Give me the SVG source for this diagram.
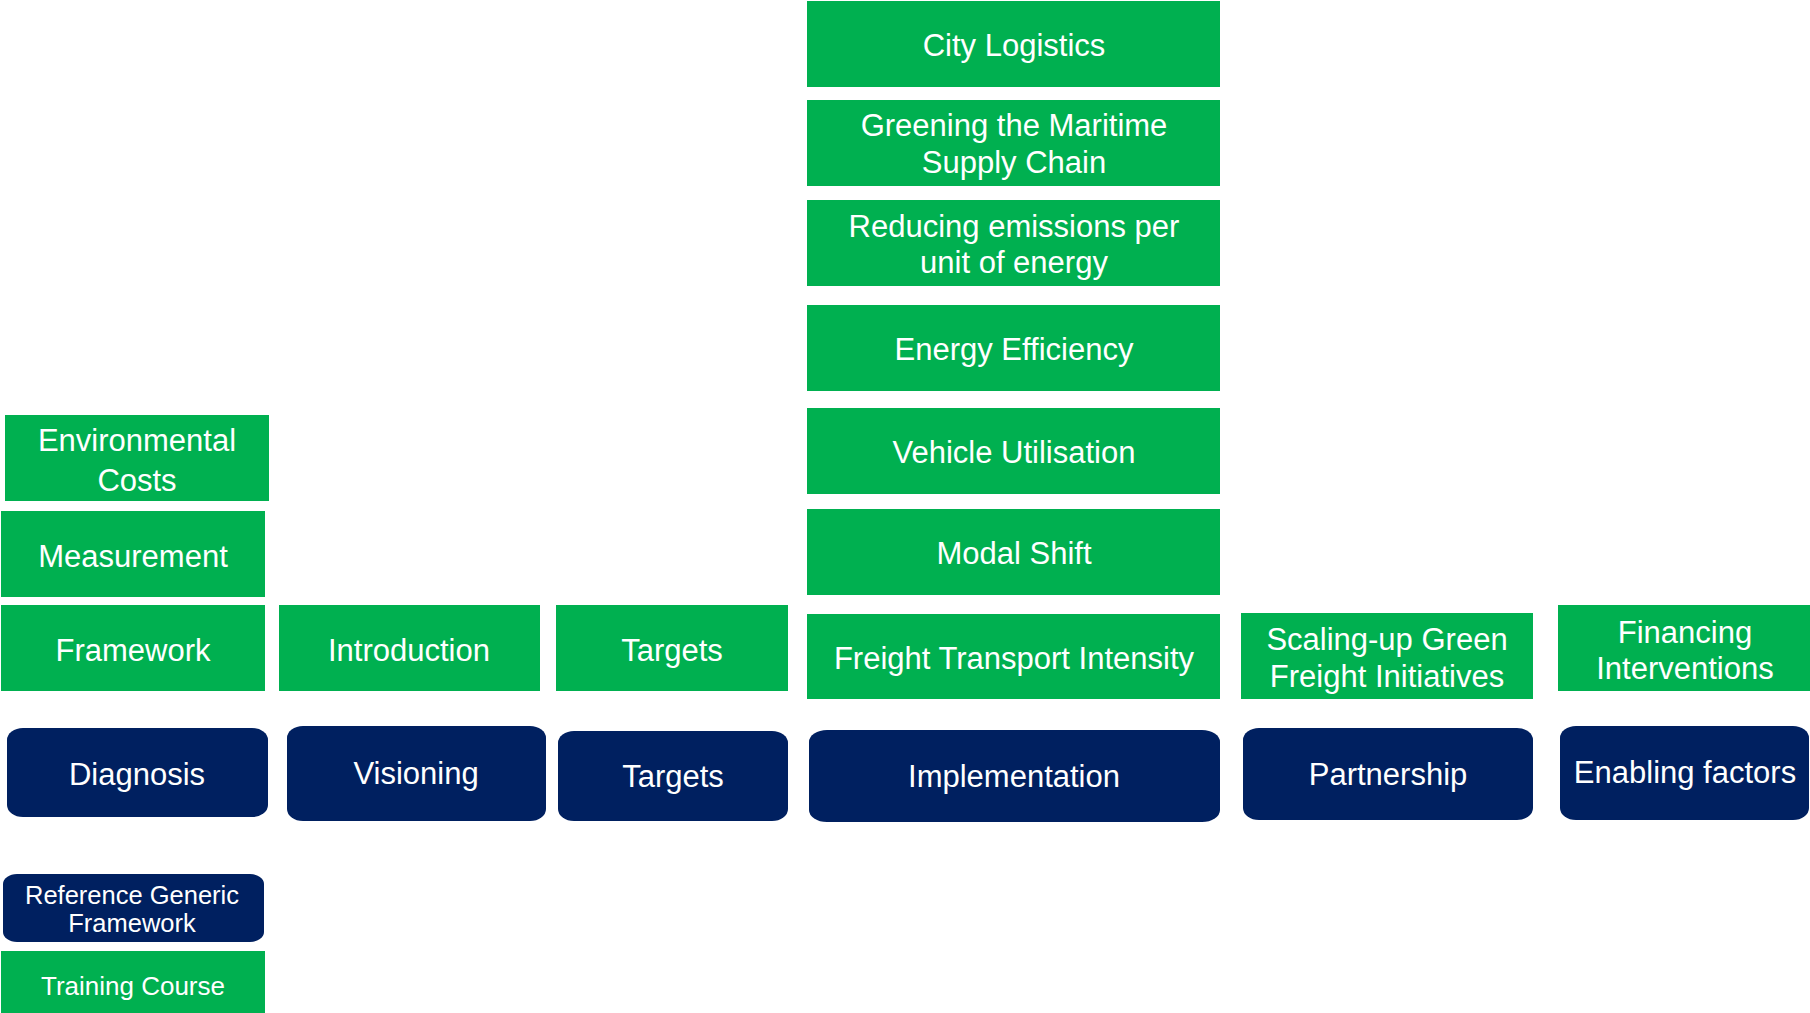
<svg xmlns="http://www.w3.org/2000/svg" width="1810" height="1013" viewBox="0 0 1810 1013">
<style>
.g{fill:#00B050}
.b{fill:#002060}
text{fill:#FFFFFF;font-family:"Liberation Sans",Arial,sans-serif;font-size:31px;text-anchor:middle}
.s{font-size:25.5px}
.t{font-size:26px}
</style>
<rect width="1810" height="1013" fill="#FFFFFF"/>
<g id="connectors"></g>
<g id="environmental-costs"><rect class="g" x="5" y="415" width="264" height="86"/><text x="137" y="451">Environmental</text><text x="137" y="491">Costs</text></g>
<g id="measurement"><rect class="g" x="1" y="511" width="264" height="86"/><text x="133" y="567">Measurement</text></g>
<g id="framework"><rect class="g" x="1" y="605" width="264" height="86"/><text x="133" y="661">Framework</text></g>
<g id="introduction"><rect class="g" x="279" y="605" width="261" height="86"/><text x="409" y="661">Introduction</text></g>
<g id="targets-green"><rect class="g" x="556" y="605" width="232" height="86"/><text x="672" y="661">Targets</text></g>
<g id="city-logistics"><rect class="g" x="807" y="1" width="413" height="86"/><text x="1014" y="56">City Logistics</text></g>
<g id="greening-maritime"><rect class="g" x="807" y="100" width="413" height="86"/><text x="1014" y="136">Greening the Maritime</text><text x="1014" y="173">Supply Chain</text></g>
<g id="reducing-emissions"><rect class="g" x="807" y="200" width="413" height="86"/><text x="1014" y="237">Reducing emissions per</text><text x="1014" y="273">unit of energy</text></g>
<g id="energy-efficiency"><rect class="g" x="807" y="305" width="413" height="86"/><text x="1014" y="360">Energy Efficiency</text></g>
<g id="vehicle-utilisation"><rect class="g" x="807" y="408" width="413" height="86"/><text x="1014" y="463">Vehicle Utilisation</text></g>
<g id="modal-shift"><rect class="g" x="807" y="509" width="413" height="86"/><text x="1014" y="564">Modal Shift</text></g>
<g id="freight-transport-intensity"><rect class="g" x="807" y="614" width="413" height="85"/><text x="1014" y="669">Freight Transport Intensity</text></g>
<g id="scaling-up"><rect class="g" x="1241" y="613" width="292" height="86"/><text x="1387" y="650">Scaling-up Green</text><text x="1387" y="687">Freight Initiatives</text></g>
<g id="financing"><rect class="g" x="1558" y="605" width="252" height="86"/><text x="1685" y="643">Financing</text><text x="1685" y="679">Interventions</text></g>
<g id="diagnosis"><rect class="b" x="7" y="728" width="261" height="89" rx="16" ry="12"/><text x="137" y="785">Diagnosis</text></g>
<g id="visioning"><rect class="b" x="287" y="726" width="259" height="95" rx="16" ry="12"/><text x="416" y="784">Visioning</text></g>
<g id="targets-blue"><rect class="b" x="558" y="731" width="230" height="90" rx="16" ry="12"/><text x="673" y="787">Targets</text></g>
<g id="implementation"><rect class="b" x="809" y="730" width="411" height="92" rx="18" ry="12"/><text x="1014" y="787">Implementation</text></g>
<g id="partnership"><rect class="b" x="1243" y="728" width="290" height="92" rx="16" ry="12"/><text x="1388" y="785">Partnership</text></g>
<g id="enabling-factors"><rect class="b" x="1560" y="726" width="249" height="94" rx="16" ry="12"/><text x="1685" y="783">Enabling factors</text></g>
<g id="reference-generic-framework"><rect class="b" x="3" y="874" width="261" height="68" rx="14" ry="10"/><text class="s" x="132" y="904">Reference Generic</text><text class="s" x="132" y="932">Framework</text></g>
<g id="training-course"><rect class="g" x="1" y="951" width="264" height="62"/><text class="t" x="133" y="995">Training Course</text></g>
</svg>
